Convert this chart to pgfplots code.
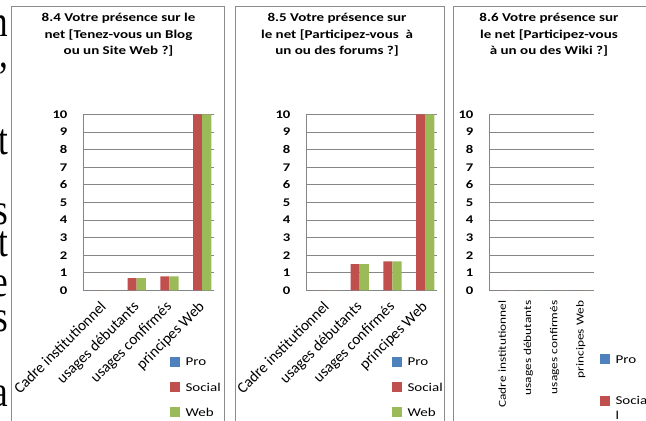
\documentclass[border=0pt]{standalone}
\usepackage{pgfplots}
\pgfplotsset{compat=1.18}
\usepackage{fontspec}
\setmainfont{Carlito}[FakeStretch=1.25]
\newfontfamily\labelfont{Carlito}
\newfontfamily\pagefont{Liberation Serif}[FakeStretch=0.8]
\definecolor{pro}{HTML}{4F81BD}
\definecolor{social}{HTML}{C0504D}
\definecolor{web}{HTML}{9BBB59}
\definecolor{frame}{HTML}{8C8C8C}
\definecolor{gridgray}{HTML}{868686}

\pgfplotsset{
  panel/.style={
    scale only axis,
    width=98.25pt, height=132pt,
    anchor=south west,
    ybar=0pt, bar width=6.9pt,
    ymin=0, ymax=10, ytick={0,...,10},
    xmin=-0.5, xmax=3.5, xtick={0,1,2,3},
    xticklabels={Cadre institutionnel, usages débutants, usages confirmés, principes Web},
    separate axis lines,
    axis x line*=bottom, axis y line*=left,
    x axis line style={-}, y axis line style={-},
    axis line style={gridgray, line width=0.75pt},
    ymajorgrids, major grid style={gridgray, line width=0.6pt},
    major tick length=0pt,
    /pgf/number format/assume math mode=true,
    yticklabel style={font=\fontsize{8.8}{9}\selectfont\bfseries, anchor=east, inner sep=0pt, xshift=-11.5pt},
    title style={font=\fontsize{9}{12.4}\selectfont\bfseries, align=center, anchor=north, inner sep=0pt},
    legend style={draw=none, fill=none, inner sep=0pt, outer sep=0pt, anchor=north west,
      font=\fontsize{9}{11}\selectfont, row sep=7.2pt,
      cells={anchor=base west, inner sep=0pt},
      /tikz/every odd column/.append style={column sep=2.2pt}},
    legend image code/.code={\fill[##1] (0pt,-0.5pt) rectangle (7.5pt,7pt);},
    every axis plot/.append style={draw=none},
  },
  angled/.style={
    xticklabel style={font=\labelfont\fontsize{11.5}{12}\selectfont, xshift=0pt, yshift=-7pt, rotate=45, anchor=north east, inner sep=0pt}},
  upright/.style={
    xticklabel style={font=\fontsize{8}{10}\selectfont, yshift=-7.5pt, rotate=90, anchor=east, inner sep=0pt}},
}

\begin{document}
\begin{tikzpicture}[x=0.75pt, y=0.75pt]
\path[use as bounding box] (0,0) rectangle (646,421);
\clip (0,0) rectangle (646,421);

% bits of the page text behind the charts
\begin{scope}[every node/.style={anchor=base east, inner sep=0pt, font=\pagefont\fontsize{33}{33}\selectfont}]
  \node at (8.5,384) {n};
  \node at (8.5,353) {,};
  \node at (8.5,266) {t};
  \node at (8.5,196) {s};
  \node at (8.5,164) {t};
  \node at (8.5,124) {e};
  \node at (8.5,89) {s};
  \node at (8,14) {a};
\end{scope}

% panel frames
\draw[frame, line width=0.75pt] (11,-5) -- (11,414) -- (224,414) -- (224,-5);
\draw[frame, line width=0.75pt] (235,-5) -- (235,414) -- (444,414) -- (444,-5);
\draw[frame, line width=0.75pt] (453,-5) -- (453,414) -- (660,414);

% 8.4
\begin{axis}[panel, angled, at={(62.25pt,97.875pt)},
    title={8.4 Votre présence sur le\\net [Tenez-vous un Blog\\ou un Site Web ?]},
    title style={at={(0.271,1.53)}},
    legend style={at={(0.664,-0.37)}}]
  \addplot[fill=pro] coordinates {(0,0) (1,0) (2,0) (3,0)};
  \addplot[fill=social] coordinates {(0,0) (1,0.7) (2,0.8) (3,10)};
  \addplot[fill=web] coordinates {(0,0) (1,0.7) (2,0.8) (3,10)};
  \legend{Pro, Social, Web}
\end{axis}

% 8.5
\begin{axis}[panel, angled, at={(229.5pt,97.875pt)},
    title={8.5 Votre présence sur\\le net [Participez-vous~ à\\un ou des forums ?]},
    title style={at={(0.237,1.53)}},
    legend style={at={(0.656,-0.37)}}]
  \addplot[fill=pro] coordinates {(0,0) (1,0) (2,0) (3,0)};
  \addplot[fill=social] coordinates {(0,0) (1,1.5) (2,1.65) (3,10)};
  \addplot[fill=web] coordinates {(0,0) (1,1.5) (2,1.65) (3,10)};
  \legend{Pro, Social, Web}
\end{axis}

% 8.6
\begin{axis}[panel, upright, at={(366.75pt,97.875pt)}, width=78.75pt,
    title={8.6 Votre présence sur\\le net [Participez-vous\\à un ou des Wiki ?]},
    title style={at={(0.571,1.53)}},
    legend style={at={(1.057,-0.355)}, row sep=18pt}]
  \addplot[fill=pro] coordinates {(0,0) (1,0) (2,0) (3,0)};
  \addplot[fill=social] coordinates {(0,0) (1,0) (2,0) (3,0)};
  \addplot[fill=web] coordinates {(0,0) (1,0) (2,0) (3,0)};
  \legend{Pro, {\begin{tabular}[t]{@{}l@{}}Socia\\l\end{tabular}}, Web}
\end{axis}
\end{tikzpicture}
\end{document}
